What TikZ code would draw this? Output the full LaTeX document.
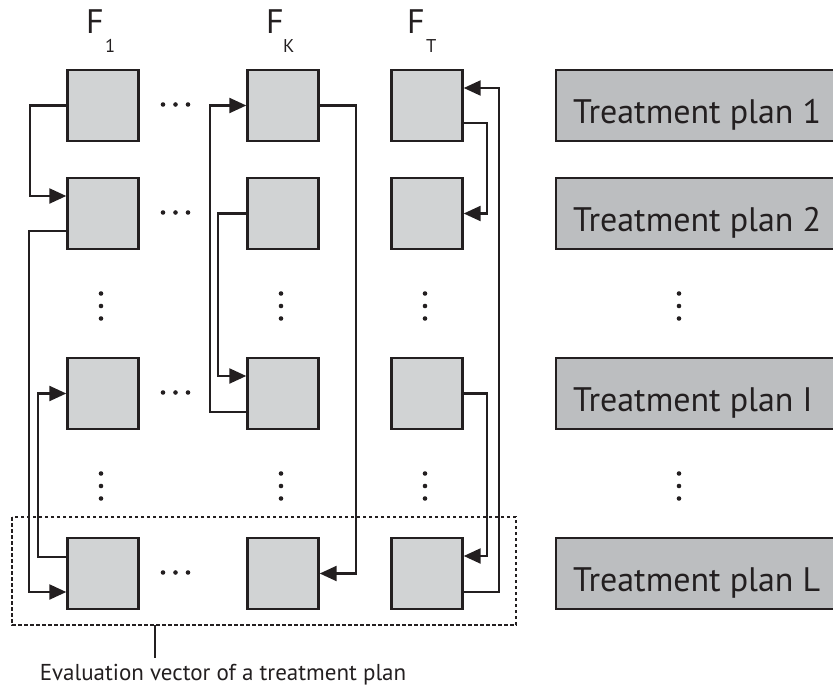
\documentclass[tikz,border=0pt]{standalone}
\usepackage{fontspec}
\setmainfont{PT Sans}
\usetikzlibrary{arrows.meta,calc}
\definecolor{ink}{HTML}{231F20}
\definecolor{cellgray}{HTML}{D1D3D4}
\definecolor{plangray}{HTML}{BCBEC0}
\begin{document}
\begin{tikzpicture}[x=1pt,y=-1pt,
  cell/.style={draw=ink,fill=cellgray,line width=2.4pt,minimum width=71pt,minimum height=71pt,inner sep=0pt},
  plan/.style={draw=ink,fill=plangray,line width=2.4pt,minimum width=320pt,minimum height=71pt,inner sep=0pt,anchor=west},
  plantext/.style={anchor=base west,inner sep=0pt,text=ink,font=\fontsize{34}{34}\selectfont},
  flabel/.style={anchor=base west,inner sep=0pt,text=ink,font=\fontsize{34}{34}\selectfont},
  fsub/.style={anchor=base west,inner sep=0pt,text=ink,font=\fontsize{18.5}{18.5}\selectfont},
  link/.style={draw=ink,line width=2.3pt,-{Triangle[length=17pt,width=15pt]}},
  dotmark/.style={fill=ink},
]
\clip (0,0) rectangle (833,688);
\useasboundingbox (0,0) rectangle (833,688);

% column labels
\node[flabel] (f1) at (86,33) {F};
\node[fsub] (f1s) at (105,52) {1};
\node[flabel] (fk) at (266,33) {F};
\node[fsub] (fks) at (283,52) {K};
\node[flabel] (ft) at (407,33) {F};
\node[fsub] (fts) at (426,52) {T};

% cells
\foreach \c/\x in {a/103,b/283,c/427}{
  \node[cell] (\c1) at (\x,105.5) {};
  \node[cell] (\c2) at (\x,213.5) {};
  \node[cell] (\c I) at (\x,393.5) {};
  \node[cell] (\c L) at (\x,573.5) {};
}

% plans
\node[plan] (p1) at (555,105.5) {};
\node[plan] (p2) at (555,213.5) {};
\node[plan] (pI) at (555,393.5) {};
\node[plan] (pL) at (555,573.5) {};
\node[plantext] (t1) at (573,123) {Treatment plan 1};
\node[plantext] (t2) at (573,231) {Treatment plan 2};
\node[plantext] (tI) at (573,411) {Treatment plan I};
\node[plantext] (tL) at (573,591) {Treatment plan L};

% horizontal dots
\foreach \y in {104.5,212.5,392.5,572.5}{
  \foreach \x in {163,175.5,188}{\fill[dotmark] (\x,\y) circle (2.3pt);}
}
% vertical dots
\foreach \x in {101,281,425,679}{
  \foreach \y in {293.5,306,318.5,473.5,486,498.5}{\fill[dotmark] (\x,\y) circle (2.3pt);}
}

% connectors column 1
\draw[link] (a1.west) -- ++(-36,0) |- ($(a2.west)+(0,-17.5)$);
\draw[link] ($(a2.west)+(0,17.5)$) -- ++(-37,0) |- ($(aL.west)+(0,18.5)$);
\draw[link] ($(aL.west)+(0,-16.5)$) -- ++(-28,0) |- (aI.west);
% connectors column K
\draw[link] ($(bI.west)+(0,18.5)$) -- ++(-36,0) |- (b1.west);
\draw[link] (b2.west) -- ++(-28,0) |- ($(bI.west)+(0,-17.5)$);
\draw[link] (b1.east) -- ++(36,0) |- (bL.east);
% connectors column T
\draw[link] ($(cL.east)+(0,18.5)$) -- ++(35,0) |- ($(c1.east)+(0,-17.5)$);
\draw[link] ($(c1.east)+(0,17.5)$) -- ++(23,0) |- (c2.east);
\draw[link] (cI.east) -- ++(23,0) |- ($(cL.east)+(0,-17.5)$);

% evaluation vector frame
\draw[ink,line width=1.8pt,dash pattern=on 3.5pt off 2.5pt] (12,517) rectangle (516,625);
\coordinate (tickTop) at (155,625);
\coordinate (tickBot) at (155,658);
\draw[ink,line width=2.4pt] (tickTop) -- (tickBot);
\node[anchor=base,inner sep=0pt,text=ink,font=\fontsize{23}{23}\selectfont] (ev) at (223,680) {Evaluation vector of a treatment plan};
\end{tikzpicture}
\end{document}
